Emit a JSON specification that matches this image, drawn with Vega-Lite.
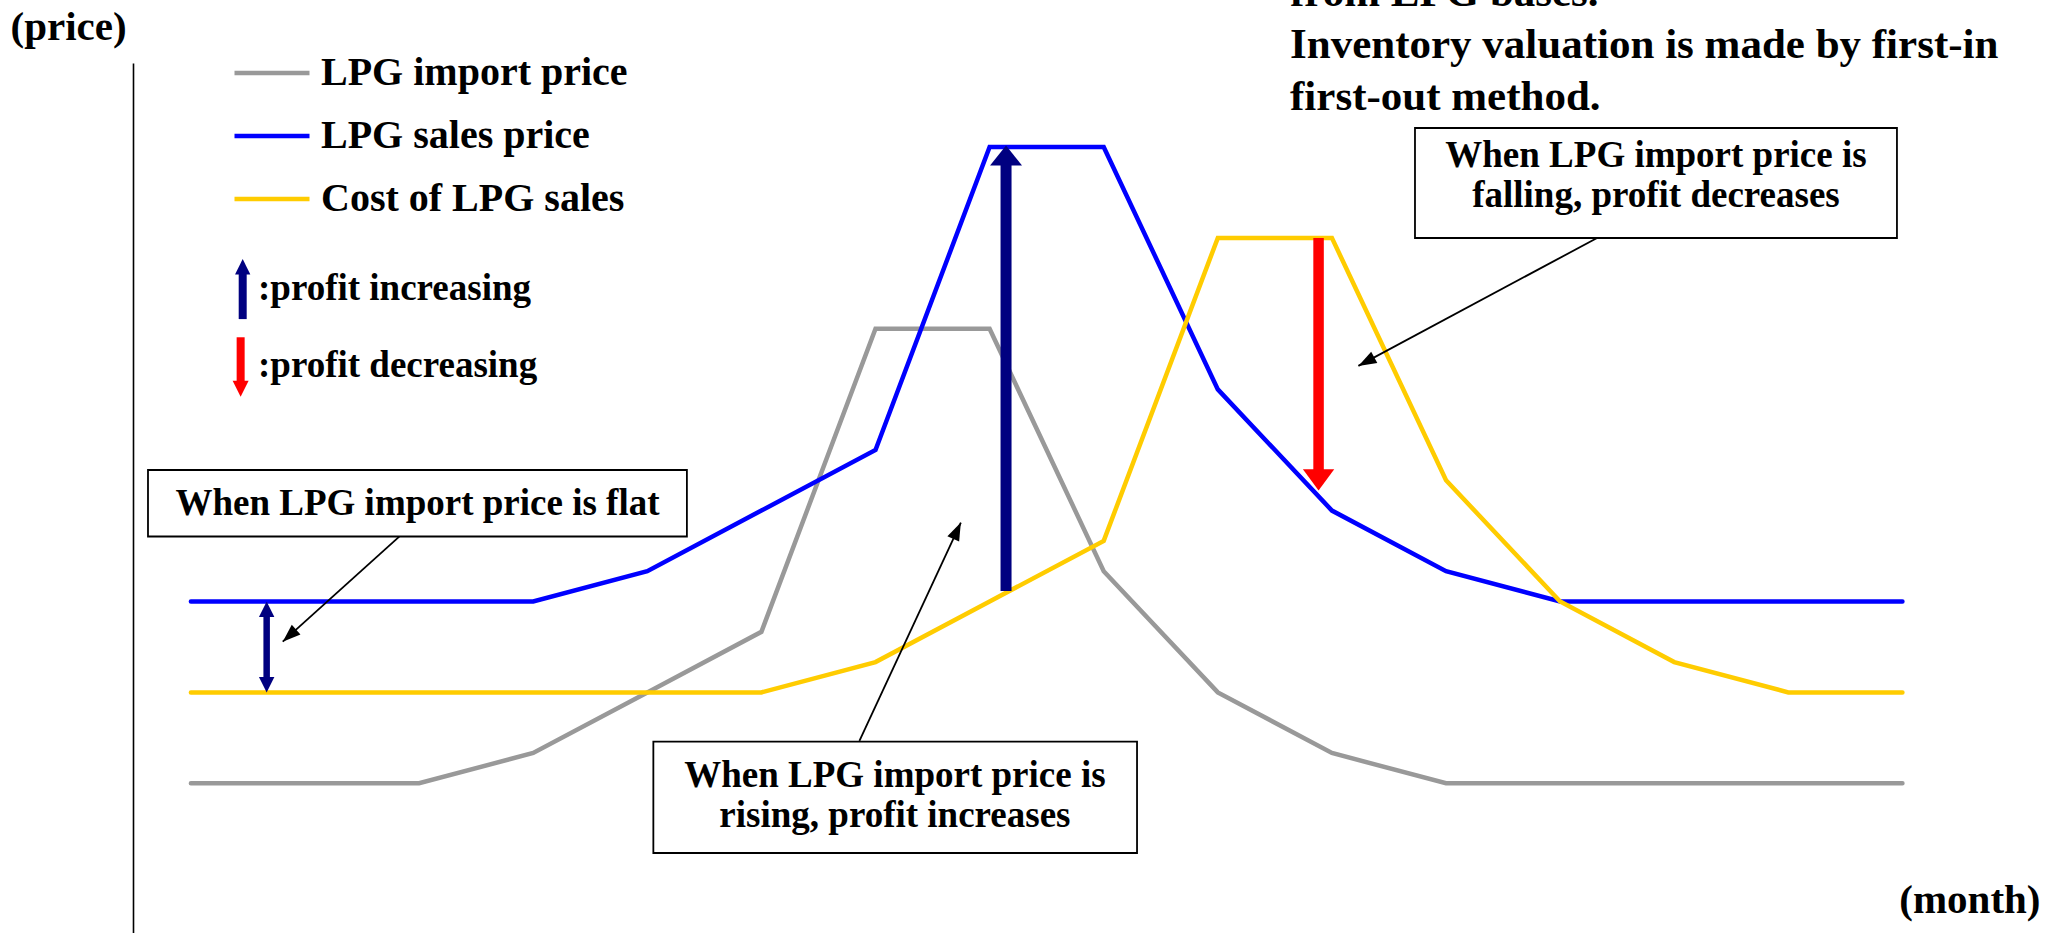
{
  "$schema": "https://vega.github.io/schema/vega-lite/v6.json",
  "width": 1931,
  "height": 870,
  "autosize": {"type": "none"},
  "padding": {"left": 133, "top": 63, "right": 0, "bottom": 0},
  "background": "white",
  "config": {
    "view": {"stroke": null},
    "font": "Liberation Serif",
    "text": {"font": "Liberation Serif", "fontWeight": "bold", "color": "black"},
    "legend": {"labelFontWeight": "bold"}
  },
  "datasets": {
    "one": [{}],
    "prices": [
      {"month": 1, "series": "LPG import price", "price": 5},
      {"month": 2, "series": "LPG import price", "price": 5},
      {"month": 3, "series": "LPG import price", "price": 5},
      {"month": 4, "series": "LPG import price", "price": 6},
      {"month": 5, "series": "LPG import price", "price": 8},
      {"month": 6, "series": "LPG import price", "price": 10},
      {"month": 7, "series": "LPG import price", "price": 20},
      {"month": 8, "series": "LPG import price", "price": 20},
      {"month": 9, "series": "LPG import price", "price": 12},
      {"month": 10, "series": "LPG import price", "price": 8},
      {"month": 11, "series": "LPG import price", "price": 6},
      {"month": 12, "series": "LPG import price", "price": 5},
      {"month": 13, "series": "LPG import price", "price": 5},
      {"month": 14, "series": "LPG import price", "price": 5},
      {"month": 15, "series": "LPG import price", "price": 5},
      {"month": 16, "series": "LPG import price", "price": 5},
      {"month": 1, "series": "LPG sales price", "price": 11},
      {"month": 2, "series": "LPG sales price", "price": 11},
      {"month": 3, "series": "LPG sales price", "price": 11},
      {"month": 4, "series": "LPG sales price", "price": 11},
      {"month": 5, "series": "LPG sales price", "price": 12},
      {"month": 6, "series": "LPG sales price", "price": 14},
      {"month": 7, "series": "LPG sales price", "price": 16},
      {"month": 8, "series": "LPG sales price", "price": 26},
      {"month": 9, "series": "LPG sales price", "price": 26},
      {"month": 10, "series": "LPG sales price", "price": 18},
      {"month": 11, "series": "LPG sales price", "price": 14},
      {"month": 12, "series": "LPG sales price", "price": 12},
      {"month": 13, "series": "LPG sales price", "price": 11},
      {"month": 14, "series": "LPG sales price", "price": 11},
      {"month": 15, "series": "LPG sales price", "price": 11},
      {"month": 16, "series": "LPG sales price", "price": 11},
      {"month": 1, "series": "Cost of LPG sales", "price": 8},
      {"month": 2, "series": "Cost of LPG sales", "price": 8},
      {"month": 3, "series": "Cost of LPG sales", "price": 8},
      {"month": 4, "series": "Cost of LPG sales", "price": 8},
      {"month": 5, "series": "Cost of LPG sales", "price": 8},
      {"month": 6, "series": "Cost of LPG sales", "price": 8},
      {"month": 7, "series": "Cost of LPG sales", "price": 9},
      {"month": 8, "series": "Cost of LPG sales", "price": 11},
      {"month": 9, "series": "Cost of LPG sales", "price": 13},
      {"month": 10, "series": "Cost of LPG sales", "price": 23},
      {"month": 11, "series": "Cost of LPG sales", "price": 23},
      {"month": 12, "series": "Cost of LPG sales", "price": 15},
      {"month": 13, "series": "Cost of LPG sales", "price": 11},
      {"month": 14, "series": "Cost of LPG sales", "price": 9},
      {"month": 15, "series": "Cost of LPG sales", "price": 8},
      {"month": 16, "series": "Cost of LPG sales", "price": 8}
    ]
  },
  "data": {"name": "one"},
  "layer": [
    {
      "data": {"name": "prices"},
      "mark": {"type": "line", "strokeWidth": 4.5, "strokeCap": "round", "strokeJoin": "miter"},
      "encoding": {
        "x": {
          "field": "month", "type": "quantitative",
          "scale": {"domain": [0.4926, 17.416], "nice": false, "zero": false},
          "axis": {
            "domain": false, "ticks": false, "labels": false, "grid": false,
            "title": "(month)", "titleX": 1907, "titleY": -21, "titleAlign": "right",
            "titleBaseline": "alphabetic", "titleFont": "Liberation Serif", "titleFontSize": 41,
            "titleFontWeight": "bold", "titleColor": "black"
          }
        },
        "y": {
          "field": "price", "type": "quantitative",
          "scale": {"domain": [0.059, 28.772], "nice": false, "zero": false},
          "axis": {
            "domain": true, "domainColor": "black", "domainWidth": 1.6, "ticks": false, "labels": false, "grid": false,
            "title": "(price)", "titleAngle": 0, "titleX": -123, "titleY": -24, "titleAlign": "left",
            "titleBaseline": "alphabetic", "titleFont": "Liberation Serif", "titleFontSize": 41,
            "titleFontWeight": "bold", "titleColor": "black"
          }
        },
        "stroke": {
          "field": "series", "type": "nominal",
          "scale": {"domain": ["LPG import price", "LPG sales price", "Cost of LPG sales"], "range": ["#999999", "#0000FF", "#FFCC00"]},
          "legend": {
            "orient": "none", "legendX": 99, "legendY": -30, "title": null,
            "symbolType": "stroke", "symbolSize": 5625, "symbolStrokeWidth": 4.5,
            "labelFont": "Liberation Serif", "labelFontSize": 40, "labelFontWeight": "bold",
            "labelColor": "black", "labelLimit": 1000, "labelOffset": 9, "rowPadding": 3
          }
        }
      }
    },
    {
      "mark": {"type": "rule", "color": "#000080", "strokeWidth": 6.5, "yOffset": 13, "y2Offset": -13},
      "encoding": {"x": {"datum": 1.664}, "y": {"datum": 11}, "y2": {"datum": 8}}
    },
    {
      "mark": {"type": "point", "shape": "M0,0L1,2L-1,2Z", "size": 237, "filled": true, "opacity": 1, "strokeWidth": 0, "color": "#000080"},
      "encoding": {"x": {"datum": 1.664}, "y": {"datum": 11}}
    },
    {
      "mark": {"type": "point", "shape": "M0,0L1,-2L-1,-2Z", "size": 237, "filled": true, "opacity": 1, "strokeWidth": 0, "color": "#000080"},
      "encoding": {"x": {"datum": 1.664}, "y": {"datum": 8}}
    },
    {
      "mark": {"type": "rule", "color": "#000080", "strokeWidth": 11, "y2Offset": 18},
      "encoding": {"x": {"datum": 8.144}, "y": {"datum": 11.35}, "y2": {"datum": 26.05}}
    },
    {
      "mark": {"type": "point", "shape": "M0,0L1,1.25L-1,1.25Z", "size": 1024, "filled": true, "opacity": 1, "strokeWidth": 0, "color": "#000080"},
      "encoding": {"x": {"datum": 8.144}, "y": {"datum": 26.05}}
    },
    {
      "mark": {"type": "rule", "color": "#FF0000", "strokeWidth": 10.5, "y2Offset": -19},
      "encoding": {"x": {"datum": 10.883}, "y": {"datum": 23}, "y2": {"datum": 14.66}}
    },
    {
      "mark": {"type": "point", "shape": "M0,0L1,-1.37L-1,-1.37Z", "size": 980, "filled": true, "opacity": 1, "strokeWidth": 0, "color": "#FF0000"},
      "encoding": {"x": {"datum": 10.883}, "y": {"datum": 14.66}}
    },
    {
      "mark": {"type": "rule", "color": "#000080", "strokeWidth": 8, "y2Offset": 13},
      "encoding": {"x": {"datum": 1.454}, "y": {"datum": 20.32}, "y2": {"datum": 22.30}}
    },
    {
      "mark": {"type": "point", "shape": "M0,0L1,2L-1,2Z", "size": 234, "filled": true, "opacity": 1, "strokeWidth": 0, "color": "#000080"},
      "encoding": {"x": {"datum": 1.454}, "y": {"datum": 22.30}}
    },
    {
      "mark": {"type": "rule", "color": "#FF0000", "strokeWidth": 8, "y2Offset": -13},
      "encoding": {"x": {"datum": 1.436}, "y": {"datum": 19.72}, "y2": {"datum": 17.76}}
    },
    {
      "mark": {"type": "point", "shape": "M0,0L1,-2L-1,-2Z", "size": 256, "filled": true, "opacity": 1, "strokeWidth": 0, "color": "#FF0000"},
      "encoding": {"x": {"datum": 1.436}, "y": {"datum": 17.76}}
    },
    {
      "mark": {"type": "text", "align": "left", "baseline": "alphabetic", "fontSize": 37},
      "encoding": {"x": {"datum": 1.588}, "y": {"datum": 20.95}, "text": {"value": ":profit increasing"}}
    },
    {
      "mark": {"type": "text", "align": "left", "baseline": "alphabetic", "fontSize": 37},
      "encoding": {"x": {"datum": 1.588}, "y": {"datum": 18.41}, "text": {"value": ":profit decreasing"}}
    },
    {
      "mark": {"type": "rect", "fill": "white", "stroke": "black", "strokeWidth": 1.8},
      "encoding": {"x": {"datum": 0.624}, "x2": {"datum": 5.347}, "y": {"datum": 15.34}, "y2": {"datum": 13.145}}
    },
    {
      "mark": {"type": "text", "align": "center", "baseline": "alphabetic", "fontSize": 37},
      "encoding": {"x": {"datum": 2.986}, "y": {"datum": 13.855}, "text": {"value": "When LPG import price is flat"}}
    },
    {
      "mark": {"type": "rect", "fill": "white", "stroke": "black", "strokeWidth": 1.8},
      "encoding": {"x": {"datum": 5.053}, "x2": {"datum": 9.292}, "y": {"datum": 6.373}, "y2": {"datum": 2.70}}
    },
    {
      "mark": {"type": "text", "align": "center", "baseline": "alphabetic", "fontSize": 37, "lineHeight": 40},
      "encoding": {"x": {"datum": 7.170}, "y": {"datum": 4.888}, "text": {"value": ["When LPG import price is", "rising, profit increases"]}}
    },
    {
      "mark": {"type": "rect", "fill": "white", "stroke": "black", "strokeWidth": 1.8},
      "encoding": {"x": {"datum": 11.728}, "x2": {"datum": 15.952}, "y": {"datum": 26.627}, "y2": {"datum": 22.997}}
    },
    {
      "mark": {"type": "text", "align": "center", "baseline": "alphabetic", "fontSize": 37, "lineHeight": 40},
      "encoding": {"x": {"datum": 13.84}, "y": {"datum": 25.35}, "text": {"value": ["When LPG import price is", "falling, profit decreases"]}}
    },
    {
      "mark": {"type": "rule", "color": "black", "strokeWidth": 1.8},
      "encoding": {"x": {"datum": 2.826}, "y": {"datum": 13.139}, "x2": {"datum": 1.805}, "y2": {"datum": 9.673}}
    },
    {
      "mark": {"type": "point", "shape": "M0,0L0.36,1L-0.36,1Z", "size": 1296, "angle": 228, "filled": true, "opacity": 1, "strokeWidth": 0, "color": "black"},
      "encoding": {"x": {"datum": 1.805}, "y": {"datum": 9.673}}
    },
    {
      "mark": {"type": "rule", "color": "black", "strokeWidth": 1.8},
      "encoding": {"x": {"datum": 6.859}, "y": {"datum": 6.397}, "x2": {"datum": 7.748}, "y2": {"datum": 13.605}}
    },
    {
      "mark": {"type": "point", "shape": "M0,0L0.36,1L-0.36,1Z", "size": 1296, "angle": 25, "filled": true, "opacity": 1, "strokeWidth": 0, "color": "black"},
      "encoding": {"x": {"datum": 7.748}, "y": {"datum": 13.605}}
    },
    {
      "mark": {"type": "rule", "color": "black", "strokeWidth": 1.8},
      "encoding": {"x": {"datum": 13.324}, "y": {"datum": 22.997}, "x2": {"datum": 11.232}, "y2": {"datum": 18.776}}
    },
    {
      "mark": {"type": "point", "shape": "M0,0L0.36,1L-0.36,1Z", "size": 1296, "angle": 241.8, "filled": true, "opacity": 1, "strokeWidth": 0, "color": "black"},
      "encoding": {"x": {"datum": 11.232}, "y": {"datum": 18.776}}
    },
    {
      "mark": {"type": "text", "align": "left", "baseline": "alphabetic", "fontSize": 43, "lineHeight": 52},
      "encoding": {"x": {"datum": 10.633}, "y": {"datum": 30.653}, "text": {"value": ["from LPG bases.", "Inventory valuation is made by first-in", "first-out method."]}}
    }
  ]
}
